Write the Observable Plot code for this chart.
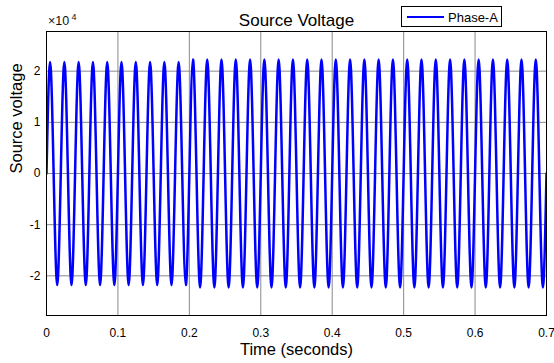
<!DOCTYPE html>
<html><head><meta charset="utf-8">
<script src="https://cdn.jsdelivr.net/npm/d3@7"></script>
<script src="https://cdn.jsdelivr.net/npm/@observablehq/plot@0.6"></script>
<style>body{margin:0;background:#fff;} svg{font-family:"Liberation Sans",Arial,sans-serif;}</style>
</head><body><div id="chart"></div>
<script>
const periodSec = 0.02;          // 50 Hz source
const endTime = 0.7;
// peak (positive) value of each cycle
const peakValues = [21800,21800,21800,21800,21800,21800,21800,21800,21800,21800,
  22300,22300,22300,22300,22300,22300,22300,22300,22300,22300,
  22300,22300,22300,22300,22300,22300,22300,22300,22300,22300,
  22300,22300,22300,22300,22300];
// trough (negative) value of each cycle
const troughValues = [-21800,-21800,-21800,-21800,-21800,-21800,-21800,-21800,-21800,-21800,
  -22300,-22300,-22300,-22300,-22300,-22300,-22300,-22300,-22300,-22300,
  -22300,-22300,-22300,-22300,-22300,-22300,-22300,-22300,-22300,-22300,
  -22300,-22300,-22300,-22300,-22300];
const xTicks = [0,0.1,0.2,0.3,0.4,0.5,0.6,0.7];
const yTicks = [-20000,-10000,0,10000,20000];
const seriesName = "Phase-A";

const points = [];
peakValues.forEach((p, i) => {
  const t0 = i * periodSec;
  points.push({t: t0, v: 0});
  points.push({t: t0 + periodSec / 4, v: p});
  points.push({t: t0 + periodSec / 2, v: 0});
  points.push({t: t0 + 3 * periodSec / 4, v: troughValues[i]});
});
points.push({t: endTime, v: 0});

const font = "Liberation Sans, Arial, sans-serif";
const chart = Plot.plot({
  width: 554, height: 363,
  marginLeft: 46, marginRight: 8, marginTop: 31, marginBottom: 48,
  style: {fontFamily: font, background: "#fff"},
  x: {domain: [0, 0.7]},
  y: {domain: [-27750, 27750]},
  marks: [
    Plot.gridX(xTicks, {stroke: "#8a8a8a", strokeOpacity: 1}),
    Plot.gridY(yTicks, {stroke: "#8a8a8a", strokeOpacity: 1}),
    Plot.line(points, {x: "t", y: "v", stroke: "#0000ff", strokeWidth: 2.5, curve: "natural", clip: true}),
    Plot.frame({stroke: "black", strokeWidth: 1}),
    Plot.axisX(xTicks, {tickSize: 0, tickPadding: 13, fontSize: 12, label: null, tickFormat: d => String(d)}),
    Plot.axisY(yTicks, {tickSize: 0, tickPadding: 6, fontSize: 12, label: null, tickFormat: d => String(d / 10000)}),
    Plot.text(["Source Voltage"], {frameAnchor: "top", text: d => d, dy: -18, fontSize: 17, fill: "black"}),
    Plot.text(["Time (seconds)"], {frameAnchor: "bottom", text: d => d, dy: 39, fontSize: 16.5, fill: "black"}),
    Plot.text(["Source voltage"], {frameAnchor: "left", text: d => d, dx: -30, rotate: -90, fontSize: 16.5, fill: "black"})
  ]
});
document.getElementById("chart").appendChild(chart);

const svg = d3.select(chart);
// exponent label
svg.append("text").attr("x", 48).attr("y", 25)
  .style("text-anchor", "start").style("font-size", "12.5px").attr("fill", "#111").text("×10");
svg.append("text").attr("x", 71.5).attr("y", 20)
  .style("text-anchor", "start").style("font-size", "9px").attr("fill", "#111").text("4");
// legend
const lg = svg.append("g");
lg.append("rect").attr("x", 401.5).attr("y", 6.5).attr("width", 100).attr("height", 20)
  .attr("fill", "white").attr("stroke", "black");
lg.append("line").attr("x1", 407).attr("x2", 444).attr("y1", 17).attr("y2", 17)
  .attr("stroke", "#0000ff").attr("stroke-width", 2);
lg.append("text").attr("x", 448).attr("y", 21.5).style("font-size", "13px")
  .style("text-anchor", "start").attr("fill", "black").text(seriesName);
</script></body></html>
